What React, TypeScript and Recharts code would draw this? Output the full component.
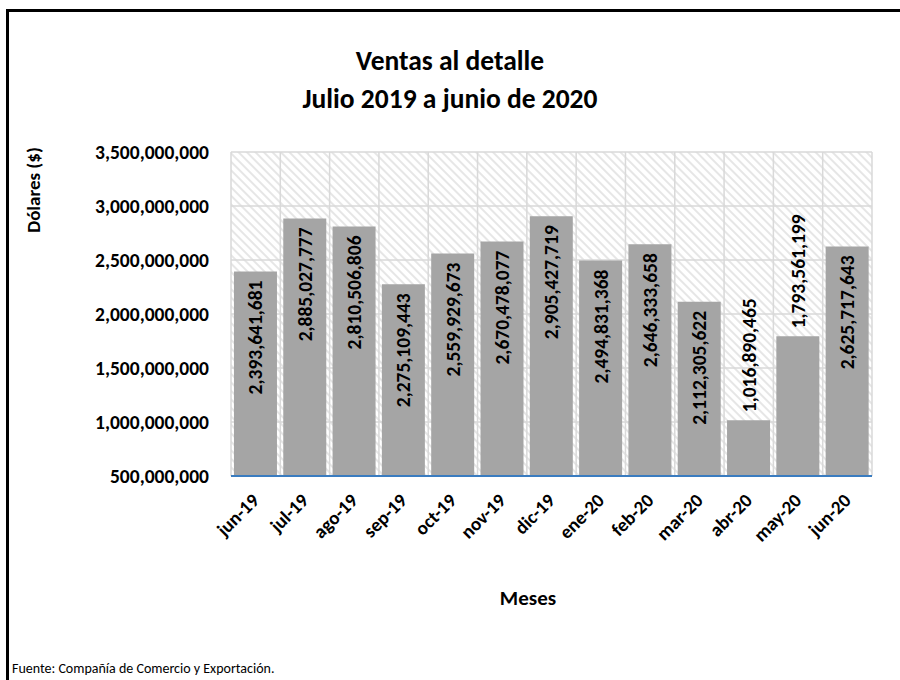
import React from 'react';
import { BarChart, Bar, XAxis, YAxis, CartesianGrid, LabelList } from 'recharts';

const months = ['jun-19', 'jul-19', 'ago-19', 'sep-19', 'oct-19', 'nov-19', 'dic-19', 'ene-20', 'feb-20', 'mar-20', 'abr-20', 'may-20', 'jun-20'];
const sales = [2393641681, 2885027777, 2810506806, 2275109443, 2559929673, 2670478077, 2905427719, 2494831368, 2646333658, 2112305622, 1016890465, 1793561199, 2625717643];
const yTicks = [500000000, 1000000000, 1500000000, 2000000000, 2500000000, 3000000000, 3500000000];

const data = months.map((m, i) => ({ month: m, value: sales[i] }));

const FONT = 'Carlito, Lato, "Open Sans", sans-serif';
const fmt = (v: number) => v.toLocaleString('en-US');

const BarLabel = (props: any) => {
  const { x, y, width, height, value } = props;
  const cx = x + width / 2;
  const inside = height > 150;
  const ty = inside ? y + 9 : y - 8;
  return (
    <text
      x={cx}
      y={ty}
      transform={`rotate(-90, ${cx}, ${ty})`}
      textAnchor={inside ? 'end' : 'start'}
      dominantBaseline="central"
      fontFamily={FONT}
      fontWeight={700}
      fontSize={19.5}
      fill="#000"
    >
      {fmt(value)}
    </text>
  );
};

const MonthTick = (props: any) => {
  const { x, y, payload } = props;
  const tx = x;
  const ty = y + 13;
  return (
    <text
      x={tx}
      y={ty}
      transform={`rotate(-45, ${tx}, ${ty})`}
      textAnchor="end"
      dominantBaseline="central"
      fontFamily={FONT}
      fontWeight={700}
      fontSize={19}
      fill="#000"
    >
      {payload.value}
    </text>
  );
};

export default function App() {
  return (
    <div style={{ position: 'absolute', left: 0, top: 0, width: 900, height: 680, background: '#fff', overflow: 'hidden', fontFamily: FONT }}>
      <div style={{ position: 'absolute', left: 6, top: 9, width: 1000, height: 1000, border: '3px solid #000', boxSizing: 'border-box' }} />
      <div style={{ position: 'absolute', left: 0, width: 900, top: 42, textAlign: 'center', fontWeight: 700, fontSize: 27.5, lineHeight: '38px', color: '#000' }}>
        Ventas al detalle
        <br />
        Julio 2019 a junio de 2020
      </div>
      <div style={{ position: 'absolute', left: 33, top: 190, transform: 'translate(-50%, -50%) rotate(-90deg)', whiteSpace: 'nowrap', fontWeight: 700, fontSize: 19, color: '#000' }}>
        Dólares ($)
      </div>
      <div style={{ position: 'absolute', left: 528, top: 598, transform: 'translate(-50%, -50%)', whiteSpace: 'nowrap', fontWeight: 700, fontSize: 21, color: '#000' }}>
        Meses
      </div>
      <div style={{ position: 'absolute', left: 12, top: 660, whiteSpace: 'nowrap', fontWeight: 400, fontSize: 14, color: '#000' }}>
        Fuente: Compañía de Comercio y Exportación.
      </div>
      <div style={{ position: 'absolute', left: 0, top: 0 }}>
        <BarChart width={900} height={680} data={data} margin={{ top: 152, right: 28, bottom: 124, left: 100 }} barCategoryGap="6%">
          <defs>
            <pattern id="hatch" patternUnits="userSpaceOnUse" width={6} height={6} patternTransform="rotate(-45)">
              <rect width={6} height={6} fill="#fff" />
              <line x1={1} y1={0} x2={1} y2={6} stroke="#e6e6e6" strokeWidth={2} />
            </pattern>
          </defs>
          <CartesianGrid
            fill="url(#hatch)"
            stroke="#d9d9d9"
            strokeWidth={1.5}
            verticalCoordinatesGenerator={({ offset }: any) =>
              months.map((_, i) => offset.left + (i * offset.width) / months.length).concat(offset.left + offset.width)
            }
          />
          <XAxis
            dataKey="month"
            height={80}
            tick={<MonthTick />}
            tickLine={false}
            axisLine={{ stroke: '#3a7cc0', strokeWidth: 2 }}
            interval={0}
          />
          <YAxis
            width={131}
            domain={[500000000, 3500000000]}
            ticks={yTicks}
            allowDataOverflow
            tickFormatter={fmt}
            tick={{ fontFamily: FONT, fontWeight: 700, fontSize: 19.5, fill: '#000' }}
            tickMargin={16}
            tickLine={false}
            axisLine={false}
          />
          <Bar dataKey="value" fill="#a5a5a5" isAnimationActive={false}>
            <LabelList dataKey="value" content={<BarLabel />} />
          </Bar>
        </BarChart>
      </div>
    </div>
  );
}
